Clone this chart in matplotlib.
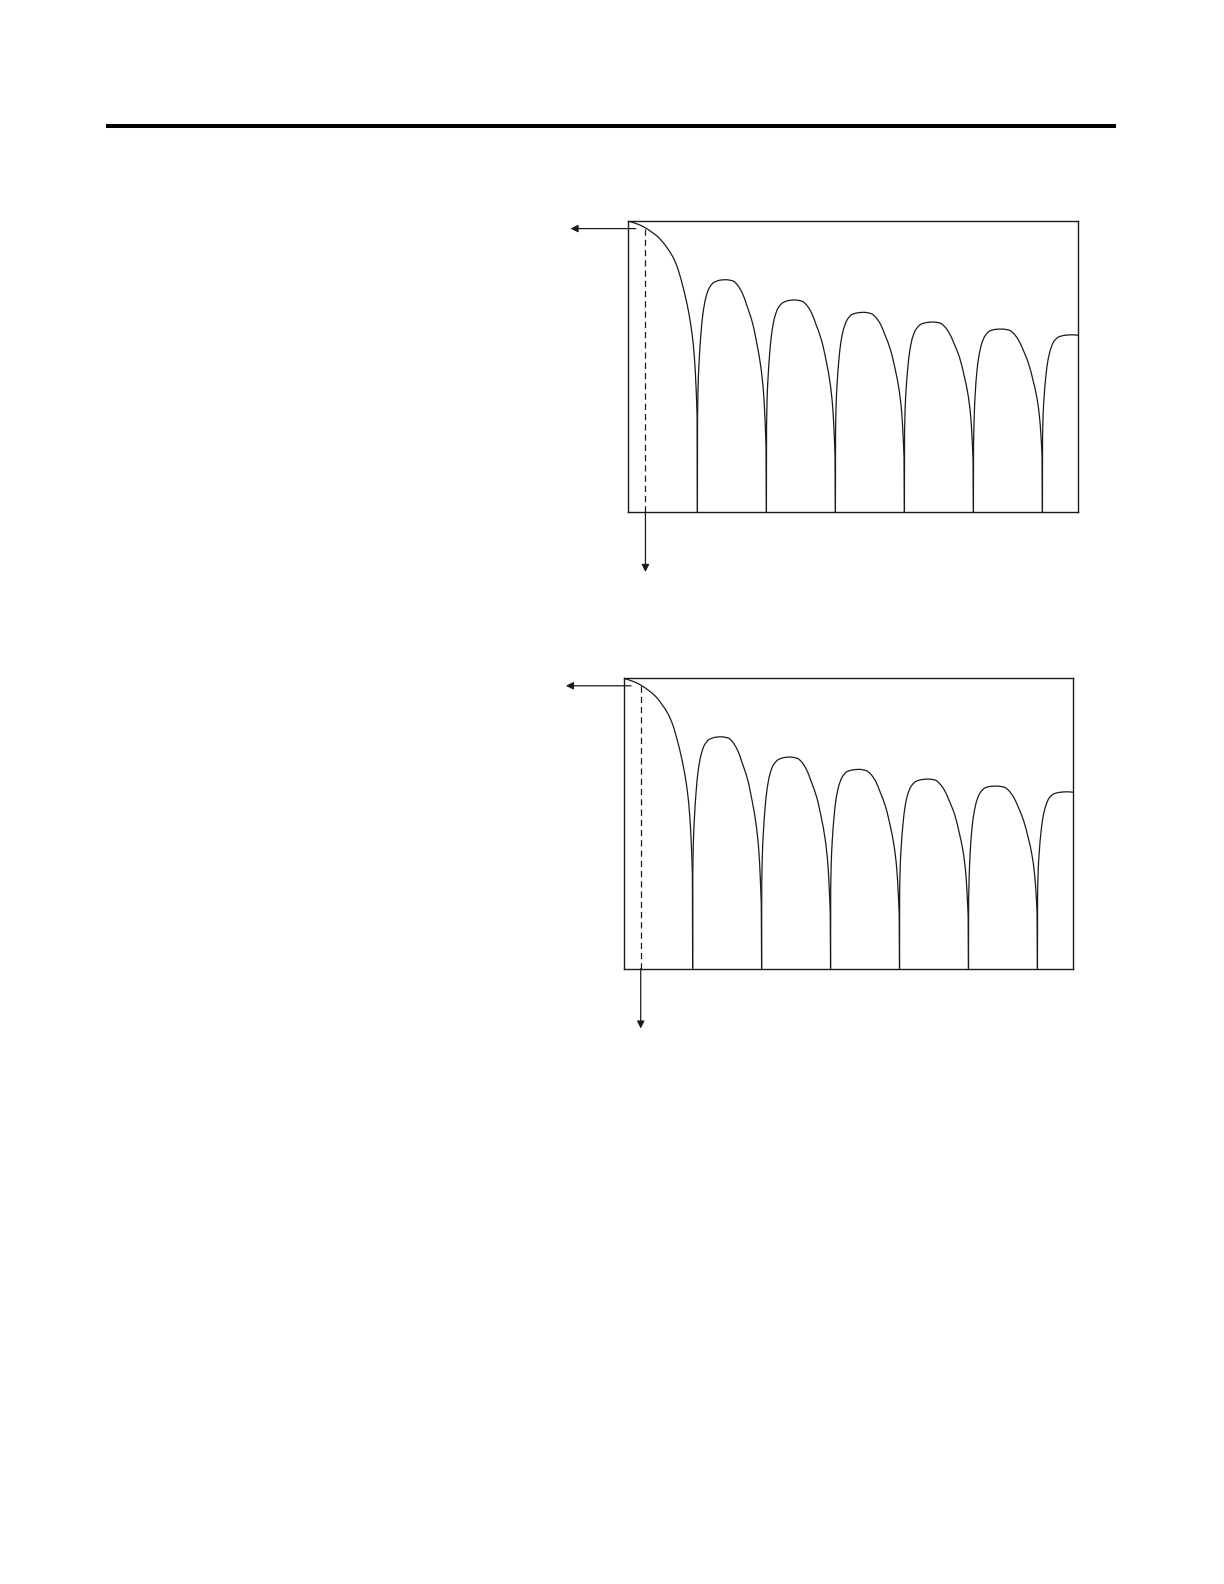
import numpy as np
import matplotlib
matplotlib.use("Agg")
import matplotlib.pyplot as plt
from matplotlib.lines import Line2D
from matplotlib.path import Path
from matplotlib.patches import PathPatch

# figure is a page scan: 1224 x 1584 px
W, H = 1224, 1584
ink = "#1a1a1a"

# response level in dB, one list per lobe (x in null spacings)
floor_db = -66.0
x_max = 6.52

main_x = [0.0, 0.12, 0.243, 0.33, 0.429, 0.5, 0.562, 0.64, 0.705, 0.786, 0.871, 0.924, 0.957, 0.983, 0.996, 1.0]
main_db = [0.0, -0.6, -1.5, -2.4, -3.6, -4.8, -6.1, -8.0, -10.3, -14.6, -20.5, -25.8, -31.1, -38.6, -44.5, -66.0]

lobe1_x = [1.0, 1.002, 1.01, 1.024, 1.048, 1.08, 1.12, 1.17, 1.24, 1.33, 1.41, 1.52, 1.58, 1.65, 1.72, 1.80, 1.87, 1.92, 1.96, 1.98, 1.995, 2.0]
lobe1_db = [-66.0, -44.3, -37.5, -32.2, -26.2, -21.0, -17.5, -15.2, -13.9, -13.4, -13.3, -13.6, -14.5, -16.3, -19.3, -23.2, -28.5, -33.2, -39.3, -45.1, -51.2, -66.0]

lobe2_x = [2.0, 2.002, 2.01, 2.024, 2.048, 2.08, 2.12, 2.17, 2.24, 2.33, 2.41, 2.52, 2.58, 2.65, 2.72, 2.80, 2.87, 2.92, 2.96, 2.98, 2.995, 3.0]
lobe2_db = [-66.0, -46.7, -40.4, -35.5, -29.9, -25.1, -21.8, -19.7, -18.5, -18.0, -17.9, -18.2, -19.0, -20.7, -23.5, -27.1, -32.0, -36.4, -42.1, -47.5, -53.1, -66.0]

lobe3_x = [3.0, 3.002, 3.01, 3.024, 3.048, 3.08, 3.12, 3.17, 3.24, 3.33, 3.41, 3.52, 3.58, 3.65, 3.72, 3.80, 3.87, 3.92, 3.96, 3.98, 3.995, 4.0]
lobe3_db = [-66.0, -47.7, -41.8, -37.1, -31.9, -27.4, -24.4, -22.4, -21.2, -20.8, -20.7, -21.0, -21.75, -23.3, -25.9, -29.3, -33.9, -38.0, -43.3, -48.4, -53.7, -66.0]

lobe4_x = [4.0, 4.002, 4.01, 4.024, 4.048, 4.08, 4.12, 4.17, 4.24, 4.33, 4.41, 4.52, 4.58, 4.65, 4.72, 4.80, 4.87, 4.92, 4.96, 4.98, 4.995, 5.0]
lobe4_db = [-66.0, -48.3, -42.7, -38.4, -33.5, -29.2, -26.3, -24.5, -23.4, -23.0, -22.9, -23.15, -23.9, -25.4, -27.8, -31.0, -35.4, -39.2, -44.2, -49.0, -54.0, -66.0]

lobe5_x = [5.0, 5.002, 5.01, 5.024, 5.048, 5.08, 5.12, 5.17, 5.24, 5.33, 5.41, 5.52, 5.58, 5.65, 5.72, 5.80, 5.87, 5.92, 5.96, 5.98, 5.995, 6.0]
lobe5_db = [-66.0, -50.5, -45.1, -39.8, -34.5, -30.6, -27.8, -26.0, -24.9, -24.55, -24.5, -24.75, -25.45, -26.9, -29.2, -32.4, -36.5, -40.1, -44.8, -48.9, -53.4, -66.0]

lobe6_x = [6.0, 6.002, 6.01, 6.024, 6.048, 6.08, 6.12, 6.17, 6.24, 6.33, 6.43, 6.52]
lobe6_db = [-66.0, -49.1, -44.0, -40.0, -35.5, -31.6, -29.0, -27.2, -26.25, -25.9, -25.8, -25.9]

# beamwidth marker (dashed drop line + arrows)
beam_x = 0.247
beam_db = -1.7
arrow_left_x = -0.839
arrow_start_x = 0.106
arrow_down_db = -79.6


def monotone_slopes(x, y):
    # Fritsch-Butland slopes so the drawn curve never overshoots the read points
    h = np.diff(x)
    d = np.diff(y) / h
    m = np.empty(len(x))
    m[0], m[-1] = d[0], d[-1]
    for i in range(1, len(x) - 1):
        if d[i - 1] * d[i] <= 0:
            m[i] = 0.0
        else:
            w1 = 2 * h[i] + h[i - 1]
            w2 = h[i] + 2 * h[i - 1]
            m[i] = (w1 + w2) / (w1 / d[i - 1] + w2 / d[i])
    return m


def lobe_path(xs, ys):
    xs = np.asarray(xs, float)
    ys = np.asarray(ys, float)
    # floor points (nulls) are joined with straight drops, the rest as a smooth curve
    inner = ys > floor_db
    cx, cy = xs[inner], ys[inner]
    m = monotone_slopes(cx, cy)

    verts, codes = [], []
    if not inner[0]:
        verts.append((xs[0], ys[0]))
        codes.append(Path.MOVETO)
        verts.append((cx[0], cy[0]))
        codes.append(Path.LINETO)
    else:
        verts.append((cx[0], cy[0]))
        codes.append(Path.MOVETO)
    for i in range(len(cx) - 1):
        h = cx[i + 1] - cx[i]
        verts += [(cx[i] + h / 3, cy[i] + m[i] * h / 3),
                  (cx[i + 1] - h / 3, cy[i + 1] - m[i + 1] * h / 3),
                  (cx[i + 1], cy[i + 1])]
        codes += [Path.CURVE4] * 3
    if not inner[-1]:
        verts.append((xs[-1], ys[-1]))
        codes.append(Path.LINETO)
    return Path(verts, codes)


def draw_panel(fig, left, top, right, bottom):
    ax = fig.add_axes([left / W, 1 - bottom / H, (right - left) / W, (bottom - top) / H])
    ax.set_xlim(0, x_max)
    ax.set_ylim(floor_db, 0)
    ax.set_xticks([])
    ax.set_yticks([])
    for spine in ax.spines.values():
        spine.set_color(ink)
        spine.set_linewidth(1.0)

    lobes = [
        (main_x, main_db), (lobe1_x, lobe1_db), (lobe2_x, lobe2_db),
        (lobe3_x, lobe3_db), (lobe4_x, lobe4_db), (lobe5_x, lobe5_db),
        (lobe6_x, lobe6_db),
    ]
    for xs, ys in lobes:
        ax.add_patch(PathPatch(lobe_path(xs, ys), facecolor="none", edgecolor=ink,
                               lw=0.9, joinstyle="round"))

    # dashed drop line from the marker point to the bottom
    dashed, = ax.plot([beam_x, beam_x], [beam_db, floor_db], color=ink, lw=0.9)
    dashed.set_dashes([5, 3.2])

    arrow = dict(arrowstyle="-|>", color=ink, lw=0.9, mutation_scale=11,
                 shrinkA=0, shrinkB=0)
    ax.annotate("", xy=(arrow_left_x, beam_db), xytext=(arrow_start_x, beam_db),
                arrowprops=arrow, annotation_clip=False)
    ax.annotate("", xy=(beam_x, arrow_down_db), xytext=(beam_x, floor_db),
                arrowprops=arrow, annotation_clip=False)
    return ax


fig = plt.figure(figsize=(W / 100, H / 100), dpi=100)
fig.patch.set_facecolor("white")

# heavy rule across the top of the page
rule_y = 1 - 126 / H
fig.add_artist(Line2D([106 / W, 1116 / W], [rule_y, rule_y], color="black", lw=2.9,
                      solid_capstyle="butt"))

draw_panel(fig, 628.4, 221.1, 1078.3, 512.0)
draw_panel(fig, 623.7, 678.3, 1073.3, 968.7)

fig.savefig("out.png", dpi=100)
